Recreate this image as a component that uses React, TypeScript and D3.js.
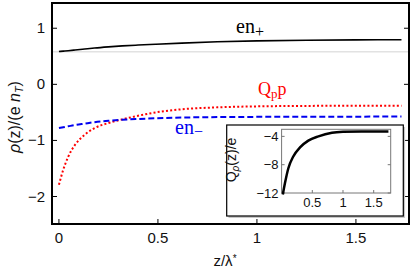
import React from 'react';
import * as d3 from 'd3';

// main panel: charge densities vs z/lambda*
const zMain = [0, 0.022, 0.047, 0.081, 0.13, 0.18, 0.25, 0.32, 0.4, 0.49, 0.62, 0.8, 1.0, 1.25, 1.5, 1.73];
const enPlus = [0.585, 0.592, 0.6, 0.612, 0.63, 0.648, 0.668, 0.685, 0.7, 0.715, 0.735, 0.758, 0.774, 0.786, 0.792, 0.795];
const enMinus = [-0.78, -0.765, -0.748, -0.725, -0.7, -0.675, -0.65, -0.632, -0.618, -0.605, -0.592, -0.584, -0.58, -0.578, -0.576, -0.575];
const qpp = [-1.79, -1.52, -1.29, -1.08, -0.9, -0.78, -0.69, -0.625, -0.56, -0.5, -0.445, -0.41, -0.393, -0.385, -0.381, -0.38];
const bulkLevel = 0.58;

// inset: Q_rho(z)/e
const zInset = [0.02, 0.055, 0.11, 0.19, 0.3, 0.435, 0.6, 0.82, 1.0, 1.3, 1.74];
const qInset = [-12.2, -10.6, -8.5, -6.84, -5.56, -4.6, -4.0, -3.5, -3.36, -3.3, -3.3];

const xTicks = [0, 0.5, 1, 1.5];
const yTicks = [-2, -1, 0, 1];
const xTicksInset = [0.5, 1, 1.5];
const yTicksInset = [-12, -8, -4];

const fmt = (v: number) => (v < 0 ? '\u2212' + Math.abs(v) : String(v));
const sans = 'Liberation Sans, Arial, sans-serif';
const serif = 'Liberation Serif, Times New Roman, serif';

const App = () => {
  const W = 415;
  const H = 275;
  const x = d3.scaleLinear().domain([-0.035, 1.768]).range([52, 409]);
  const y = d3.scaleLinear().domain([-2.49, 1.45]).range([224, 3]);

  const xi = d3.scaleLinear().domain([0, 1.777]).range([281.6, 390.7]);
  const yi = d3.scaleLinear().domain([-12, -3]).range([193, 129.3]);

  const line = (ys: number[]) =>
    d3
      .line<number>()
      .x((_, i) => x(zMain[i]))
      .y((d) => y(d))
      .curve(d3.curveMonotoneX)(ys) || '';

  const insetLine =
    d3
      .line<number>()
      .x((_, i) => xi(zInset[i]))
      .y((d) => yi(d))
      .curve(d3.curveMonotoneX)(qInset) || '';

  const [x0, x1] = x.range();
  const [y0, y1] = y.range();
  const [ix0, ix1] = xi.range();
  const [iy0, iy1] = yi.range();

  return (
    <svg width={W} height={H} style={{ position: 'absolute', left: 0, top: 0, background: '#fff' }}>
      <defs>
        <clipPath id="main-clip">
          <rect x={x0} y={y1} width={x1 - x0} height={y0 - y1} />
        </clipPath>
      </defs>

      {/* reference level */}
      <line x1={x0} x2={x1} y1={y(bulkLevel)} y2={y(bulkLevel)} stroke="#e2e2e2" strokeWidth={1.6} />

      <g clipPath="url(#main-clip)" fill="none">
        <path d={line(enPlus)} stroke="#000" strokeWidth={1.6} />
        <path d={line(qpp)} stroke="#f00" strokeWidth={2} strokeDasharray="2,2.2" />
        <path d={line(enMinus)} stroke="#0000f0" strokeWidth={2} strokeDasharray="6,3" />
      </g>

      {/* frame */}
      <rect x={x0} y={y1} width={x1 - x0} height={y0 - y1} fill="none" stroke="#000" strokeWidth={2} />
      {yTicks.map((t) => (
        <g key={'y' + t}>
          <line x1={x0} x2={x0 + 5} y1={y(t)} y2={y(t)} stroke="#000" />
          <line x1={x1 - 5} x2={x1} y1={y(t)} y2={y(t)} stroke="#000" />
          <text x={x0 - 7} y={y(t) + 5} textAnchor="end" fontFamily={sans} fontSize={15} fill="#111">
            {fmt(t)}
          </text>
        </g>
      ))}
      {xTicks.map((t) => (
        <g key={'x' + t}>
          <line x1={x(t)} x2={x(t)} y1={y0} y2={y0 - 5} stroke="#000" />
          <text x={x(t)} y={y0 + 19} textAnchor="middle" fontFamily={sans} fontSize={15} fill="#111">
            {t}
          </text>
        </g>
      ))}

      {/* axis titles */}
      <text transform="translate(20,117) rotate(-90)" textAnchor="middle" fontFamily={sans} fontSize={16} fill="#111">
        <tspan fontStyle="italic">ρ</tspan>
        <tspan>(z)/(e </tspan>
        <tspan fontStyle="italic">n</tspan>
        <tspan fontStyle="italic" fontSize={11} dy={3}>T</tspan>
        <tspan dy={-3}>)</tspan>
      </text>
      <text x={225} y={266} textAnchor="middle" fontFamily={sans} fontSize={15} fill="#111">
        z/λ<tspan dy={-4} fontSize={10}>*</tspan>
      </text>

      {/* curve labels */}
      <text x={236} y={33} fontFamily={serif} fontSize={20} fill="#000">
        en<tspan fontSize={16} dy={4}>+</tspan>
      </text>
      <text x={258} y={95} fontFamily={serif} fontSize={18} fill="#f00">
        Q<tspan fontSize={13} dy={3}>p</tspan>
        <tspan dy={-3}>p</tspan>
      </text>
      <text x={175} y={134} fontFamily={serif} fontSize={20} fill="#0000f0">
        en<tspan fontSize={16} dy={3}>−</tspan>
      </text>

      {/* inset */}
      <rect x={228.5} y={127} width={176.6} height={91} fill="#c8c8c8" />
      <rect x={226.7} y={125} width={176.6} height={91} fill="#fff" stroke="#000" strokeWidth={1.2} />
      <rect x={ix0} y={iy1} width={ix1 - ix0} height={iy0 - iy1} fill="none" stroke="#777" strokeWidth={1} />
      {yTicksInset.map((t) => (
        <g key={'iy' + t}>
          <line x1={ix0} x2={ix0 + 3} y1={yi(t)} y2={yi(t)} stroke="#777" />
          <line x1={ix1 - 3} x2={ix1} y1={yi(t)} y2={yi(t)} stroke="#777" />
          <text x={ix0 - 3} y={yi(t) + 4.5} textAnchor="end" fontFamily={sans} fontSize={13} fill="#111">
            {fmt(t)}
          </text>
        </g>
      ))}
      {xTicksInset.map((t) => (
        <g key={'ix' + t}>
          <line x1={xi(t)} x2={xi(t)} y1={iy0} y2={iy0 - 3} stroke="#777" />
          <text x={xi(t)} y={iy0 + 14} textAnchor="middle" fontFamily={sans} fontSize={13} fill="#111">
            {t}
          </text>
        </g>
      ))}
      <path d={insetLine} fill="none" stroke="#000" strokeWidth={2.5} />
      <text transform="translate(236,160) rotate(-90)" textAnchor="middle" fontFamily={sans} fontSize={14} fill="#111">
        Q<tspan fontStyle="italic" fontSize={10} dy={3}>ρ</tspan>
        <tspan dy={-3}>(z)/e</tspan>
      </text>
    </svg>
  );
};

export default App;
